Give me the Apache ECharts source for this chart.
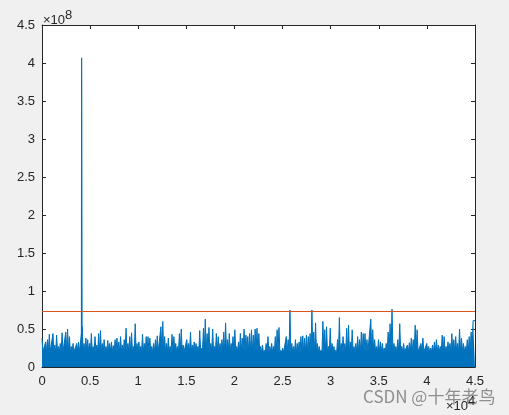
<!DOCTYPE html>
<html>
<head>
<meta charset="utf-8">
<script src="https://cdn.jsdelivr.net/npm/echarts@6/dist/echarts.min.js"></script>
<style>
html,body{margin:0;padding:0;background:#f0f0f0;}
#c{width:509px;height:415px;}
</style>
</head>
<body>
<div id="c"></div>
<script>
// values in units of 1e8, x axis in samples (0 .. 45000)
var xMin = 0, xMax = 45000, xStep = 5000;
var yMin = 0, yMax = 4.5, yStep = 0.5;
var xTickLabels = ['0','0.5','1','1.5','2','2.5','3','3.5','4','4.5'];
var yTickLabels = ['0','0.5','1','1.5','2','2.5','3','3.5','4','4.5'];
var threshold = 0.73;

// dense noise: local peaks read left to right in four stretches of the x range
var segStart = [0, 11016, 22344, 33568];
var segEnd   = [11016, 22344, 33568, 45000];
// floor level of the dense (solid) part in each stretch
var segFloor = [0.20, 0.20, 0.19, 0.20];
var noiseA = [0.38,0.22,0.33,0.36,0.43,0.22,0.44,0.29,0.42,0.27,0.31,0.45,0.22,0.46,0.50,0.40,0.27,0.31,0.22,0.31,
  0.33,0.22,0.53,0.31,0.38,0.36,0.31,0.44,0.27,0.40,0.29,0.44,0.48,0.31,0.36,0.27,0.35,0.31,0.33,0.28,
  0.36,0.38,0.33,0.40,0.29,0.36,0.51,0.31,0.40,0.45,0.27,0.57,0.31,0.33,0.27,0.43,0.31,0.40];
var noiseB = [0.40,0.38,0.27,0.31,0.36,0.41,0.22,0.53,0.60,0.40,0.31,0.38,0.27,0.43,0.40,0.31,0.27,0.44,0.50,0.29,
  0.22,0.36,0.31,0.46,0.29,0.33,0.31,0.27,0.48,0.25,0.51,0.63,0.44,0.52,0.31,0.50,0.27,0.44,0.40,0.31,
  0.36,0.46,0.58,0.36,0.44,0.31,0.40,0.49,0.27,0.33,0.44,0.38,0.50,0.42,0.40,0.44,0.49,0.42,0.50];
var noiseC = [0.51,0.44,0.27,0.29,0.22,0.31,0.40,0.27,0.31,0.27,0.40,0.49,0.52,0.22,0.25,0.18,0.40,0.36,0.75,0.31,
  0.27,0.36,0.31,0.33,0.40,0.41,0.38,0.42,0.40,0.44,0.75,0.46,0.58,0.31,0.27,0.22,0.60,0.49,0.53,0.27,
  0.51,0.31,0.27,0.22,0.36,0.65,0.31,0.40,0.31,0.51,0.55,0.33,0.49,0.27,0.31,0.40,0.36,0.46,0.44];
var noiseD = [0.44,0.36,0.22,0.63,0.49,0.36,0.27,0.36,0.33,0.31,0.25,0.31,0.46,0.57,0.76,0.31,0.27,0.36,0.57,0.27,
  0.31,0.22,0.29,0.32,0.38,0.36,0.55,0.49,0.22,0.31,0.38,0.22,0.31,0.27,0.25,0.29,0.33,0.36,0.29,0.27,
  0.42,0.40,0.27,0.33,0.31,0.44,0.36,0.40,0.31,0.50,0.38,0.31,0.27,0.36,0.40,0.46,0.61];

// the large peak near sample 4130
var peakX = [4100, 4120, 4135, 4150, 4165];
var peakY = [0.30, 4.07, 2.83, 1.31, 0.35];

var segs = [noiseA, noiseB, noiseC, noiseD];
var noiseData = [];
segs.forEach(function(vals, s){
  var n = vals.length, span = segEnd[s] - segStart[s];
  vals.forEach(function(v, i){
    var x0 = segStart[s] + span * i / n;
    noiseData.push([x0, v]);
    noiseData.push([x0 + span * 0.5 / n, segFloor[s]]);
  });
});
noiseData[noiseData.length - 1] = [xMax, noiseD[noiseD.length - 1]];
var peakData = peakX.map(function(x, i){ return [x, peakY[i]]; });
var threshData = [[xMin, threshold], [xMax, threshold]];

var axisColor = '#262626';
var font = 'Liberation Sans, Arial, sans-serif';

function xAxisCfg(pos, labels) {
  return {
    type: 'value', position: pos, min: xMin, max: xMax, interval: xStep,
    axisLine: {show: true, onZero: false, lineStyle: {color: axisColor, width: 1}},
    axisTick: {show: true, inside: true, length: 4, lineStyle: {color: axisColor}},
    axisLabel: {show: labels, color: axisColor, fontSize: 13, fontFamily: font, margin: 8,
      formatter: function(v){ return xTickLabels[Math.round((v - xMin) / xStep)]; }},
    splitLine: {show: false}
  };
}
function yAxisCfg(pos, labels) {
  return {
    type: 'value', position: pos, min: yMin, max: yMax, interval: yStep,
    axisLine: {show: true, onZero: false, lineStyle: {color: axisColor, width: 1}},
    axisTick: {show: true, inside: true, length: 4, lineStyle: {color: axisColor}},
    axisLabel: {show: labels, color: axisColor, fontSize: 13, fontFamily: font, margin: 7,
      formatter: function(v){ return yTickLabels[Math.round((v - yMin) / yStep)]; }},
    splitLine: {show: false}
  };
}

var chart = echarts.init(document.getElementById('c'), null, {renderer: 'canvas'});
chart.setOption({
  animation: false,
  backgroundColor: '#f0f0f0',
  grid: {left: 42, top: 25, right: 34, bottom: 48, show: true, backgroundColor: '#ffffff', borderWidth: 0},
  xAxis: [xAxisCfg('bottom', true), xAxisCfg('top', false)],
  yAxis: [yAxisCfg('left', true), yAxisCfg('right', false)],
  series: [
    {type: 'line', data: noiseData, showSymbol: false, xAxisIndex: 0, yAxisIndex: 0, sampling: null,
     lineStyle: {color: '#0072BD', width: 1}, areaStyle: {color: '#0072BD', opacity: 1, origin: 'start'}, z: 2},
    {type: 'line', data: peakData, showSymbol: false, xAxisIndex: 0, yAxisIndex: 0,
     lineStyle: {color: '#0072BD', width: 1.2}, z: 3},
    {type: 'line', data: threshData, showSymbol: false, xAxisIndex: 0, yAxisIndex: 0,
     lineStyle: {color: '#D95319', width: 1}, z: 4}
  ],
  graphic: [
    {type: 'text', left: 43, top: 9, style: {text: '×10{s|8}', fill: axisColor, font: '13px ' + font,
      rich: {s: {fontSize: 13, fontFamily: font, fill: axisColor, verticalAlign: 'top', padding: [0,0,9,0]}}}},
    {type: 'text', left: 446, top: 395, style: {text: '×10{s|4}', fill: axisColor, font: '13px ' + font,
      rich: {s: {fontSize: 13, fontFamily: font, fill: axisColor, verticalAlign: 'top', padding: [0,0,9,0]}}}},
    {type: 'text', left: 363, top: 388, style: {text: 'CSDN @十年老鸟', fill: 'rgba(110,110,110,0.75)',
      font: '17px "Noto Sans CJK SC", sans-serif'}}
  ]
});
</script>
</body>
</html>
